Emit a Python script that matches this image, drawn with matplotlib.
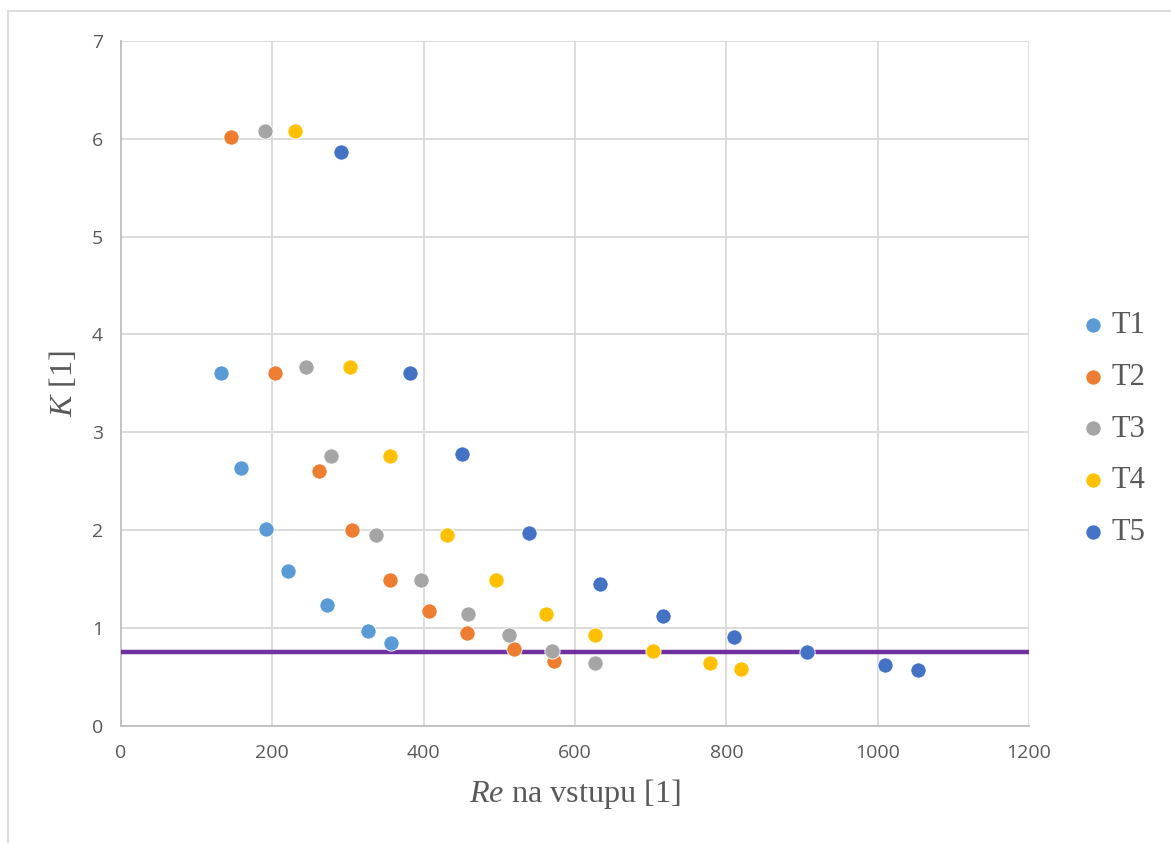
import matplotlib.pyplot as plt
from matplotlib.lines import Line2D

plt.rcParams['mathtext.fontset'] = 'custom'
plt.rcParams['mathtext.rm'] = 'Liberation Serif'
plt.rcParams['mathtext.it'] = 'Liberation Serif:italic'

# Re na vstupu / K for each test series
t1_re = [132, 158, 191, 221, 272, 327, 357]
t1_k = [3.61, 2.63, 2.01, 1.58, 1.23, 0.966, 0.847]

t2_re = [145, 203, 262, 305, 355, 407, 457, 520, 572]
t2_k = [6.02, 3.61, 2.60, 2.00, 1.487, 1.17, 0.95, 0.786, 0.657]

t3_re = [190, 245, 278, 337, 397, 459, 513, 570, 627]
t3_k = [6.08, 3.667, 2.755, 1.95, 1.487, 1.14, 0.925, 0.762, 0.643]

t4_re = [230, 302, 356, 431, 495, 562, 627, 703, 779, 820]
t4_k = [6.08, 3.667, 2.755, 1.95, 1.487, 1.143, 0.925, 0.762, 0.643, 0.579]

t5_re = [291, 382, 450, 539, 633, 716, 810, 907, 1010, 1053]
t5_k = [5.87, 3.61, 2.78, 1.966, 1.453, 1.126, 0.905, 0.752, 0.622, 0.565]

k_limit = 0.75

series = [
    ('T1', t1_re, t1_k, '#5B9BD5'),
    ('T2', t2_re, t2_k, '#ED7D31'),
    ('T3', t3_re, t3_k, '#A5A5A5'),
    ('T4', t4_re, t4_k, '#FFC000'),
    ('T5', t5_re, t5_k, '#4472C4'),
]

fig = plt.figure(figsize=(11.71, 8.43), dpi=100)
ax = fig.add_axes([121 / 1171, 1 - 725.7 / 843, 908 / 1171, (725.7 - 41) / 843])

for name, re, k, col in series:
    ax.scatter(re, k, s=120, color=col, edgecolors='white', linewidths=0.6,
               label=name, zorder=4)

ax.axhline(k_limit, color='#7030A0', lw=3.2, zorder=3)

ax.set_xlim(0, 1200)
ax.set_ylim(0, 7)
ax.set_xticks(range(0, 1201, 200))
ax.set_yticks(range(0, 8))
ax.grid(True, color='#d9d9d9', lw=1.3, zorder=0)
ax.set_axisbelow(True)
ax.tick_params(length=0, labelsize=14, labelcolor='#595959', pad=13)
for lbl in ax.get_xticklabels() + ax.get_yticklabels():
    lbl.set_fontfamily('Open Sans')

for side in ['top', 'right']:
    ax.spines[side].set_visible(False)
for side in ['left', 'bottom']:
    ax.spines[side].set_color('#bfbfbf')
    ax.spines[side].set_linewidth(1.3)

ax.set_xlabel(r'$Re$ na vstupu [1]', fontsize=23.2, color='#595959',
              fontfamily='Liberation Serif', labelpad=11)
ax.set_ylabel(r'$K$ [1]', fontsize=23.2, color='#595959',
              fontfamily='Liberation Serif', labelpad=9)

leg = ax.legend(loc='center left', bbox_to_anchor=(1047 / 1171, 1 - 429 / 843),
                bbox_transform=fig.transFigure, frameon=False,
                prop={'family': 'Liberation Serif', 'size': 22},
                handletextpad=0.0, labelspacing=0.74, markerscale=1.0,
                handlelength=1.2)
for txt in leg.get_texts():
    txt.set_color('#595959')

# chart area border (left and top edges)
fig.add_artist(Line2D([8 / 1171, 8 / 1171], [0, 1 - 11 / 843],
                      transform=fig.transFigure, color='#d9d9d9', lw=1.3))
fig.add_artist(Line2D([8 / 1171, 1], [1 - 11 / 843, 1 - 11 / 843],
                      transform=fig.transFigure, color='#d9d9d9', lw=1.3))

fig.savefig('out.png', dpi=100, facecolor='white')
